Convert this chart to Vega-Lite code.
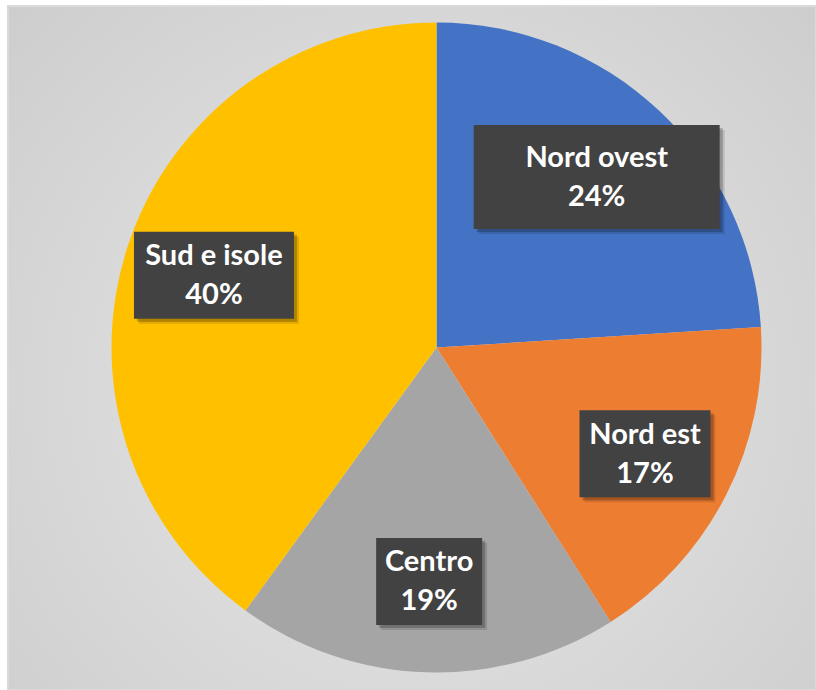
{
  "$schema": "https://vega.github.io/schema/vega-lite/v6.json",
  "width": 808,
  "height": 684,
  "padding": {"left": 8, "top": 6, "right": 0, "bottom": 0},
  "autosize": {"type": "none"},
  "background": "white",
  "config": {
    "view": {
      "fill": {"gradient": "radial", "x1": 0.5, "y1": 0.55, "r1": 0, "x2": 0.5, "y2": 0.55, "r2": 0.75,
        "stops": [{"offset": 0, "color": "#e8e8e8"}, {"offset": 1, "color": "#cbcbcb"}]},
      "stroke": "#dadada",
      "strokeWidth": 2
    }
  },
  "data": {"values": [
    {"region": "Nord ovest", "value": 24},
    {"region": "Nord est", "value": 17},
    {"region": "Centro", "value": 19},
    {"region": "Sud e isole", "value": 40}
  ]},
  "transform": [
    {"window": [{"op": "row_number", "as": "idx"}]},
    {"stack": "value", "groupby": [], "sort": [{"field": "idx", "order": "ascending"}], "as": ["v0", "v1"]},
    {"joinaggregate": [{"op": "sum", "field": "value", "as": "total"}]},
    {"calculate": "PI * (datum.v0 + datum.v1) / datum.total", "as": "mid"},
    {"calculate": "0.72 * sin(datum.mid)", "as": "lx"},
    {"calculate": "0.72 * cos(datum.mid)", "as": "ly"},
    {"calculate": "datum.region + '\\n' + datum.value + '%'", "as": "label"}
  ],
  "layer": [
    {
      "mark": {"type": "arc", "radius": 325, "stroke": null},
      "encoding": {
        "x": {"datum": 0, "type": "quantitative", "scale": {"domain": [-1.3185, 1.1677], "nice": false, "zero": false}, "axis": null},
        "y": {"datum": 0, "type": "quantitative", "scale": {"domain": [-1.0538, 1.0508], "nice": false, "zero": false}, "axis": null},
        "theta": {"field": "v0", "type": "quantitative", "scale": {"domain": [0, 100]}},
        "theta2": {"field": "v1"},
        "color": {"field": "region", "type": "nominal",
          "scale": {"domain": ["Nord ovest", "Nord est", "Centro", "Sud e isole"], "range": ["#4472C4", "#ED7D31", "#A5A5A5", "#FFC000"]},
          "legend": null}
      }
    },
    {
      "mark": {"type": "point", "filled": true, "size": 62500, "opacity": 0.12, "color": "#000000", "xOffset": 5, "yOffset": 5},
      "encoding": {
        "x": {"field": "lx", "type": "quantitative"},
        "y": {"field": "ly", "type": "quantitative"},
        "shape": {"field": "region", "type": "nominal",
          "scale": {"domain": ["Nord ovest", "Nord est", "Centro", "Sud e isole"],
            "range": ["M-0.984,-0.416H0.984V0.416H-0.984Z", "M-0.524,-0.348H0.524V0.348H-0.524Z", "M-0.424,-0.348H0.424V0.348H-0.424Z", "M-0.64,-0.348H0.64V0.348H-0.64Z"]},
          "legend": null}
      }
    },
    {
      "mark": {"type": "point", "filled": true, "size": 62500, "opacity": 0.22, "color": "#000000", "xOffset": 3, "yOffset": 3},
      "encoding": {
        "x": {"field": "lx", "type": "quantitative"},
        "y": {"field": "ly", "type": "quantitative"},
        "shape": {"field": "region", "type": "nominal", "legend": null}
      }
    },
    {
      "mark": {"type": "point", "filled": true, "size": 62500, "opacity": 1, "color": "#424242"},
      "encoding": {
        "x": {"field": "lx", "type": "quantitative"},
        "y": {"field": "ly", "type": "quantitative"},
        "shape": {"field": "region", "type": "nominal", "legend": null}
      }
    },
    {
      "mark": {"type": "text", "font": "Lato", "fontWeight": "bold", "fontSize": 29, "lineHeight": 39, "color": "#ffffff", "align": "center", "baseline": "middle", "lineBreak": "\n", "dy": -19},
      "encoding": {
        "x": {"field": "lx", "type": "quantitative"},
        "y": {"field": "ly", "type": "quantitative"},
        "text": {"field": "label"}
      }
    }
  ]
}
